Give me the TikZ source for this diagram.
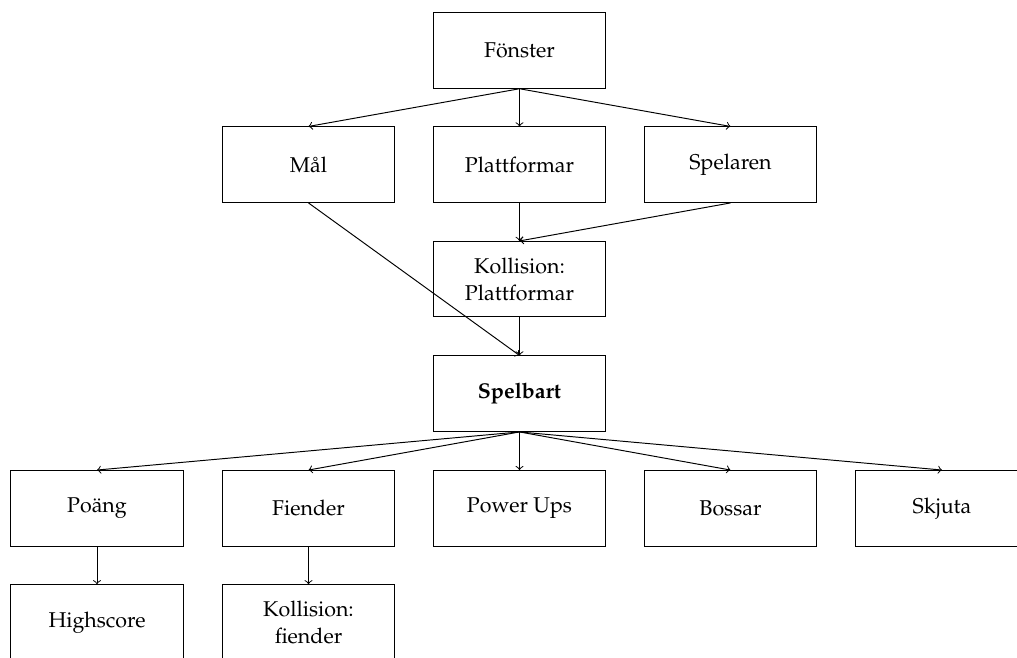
\documentclass[tikz,border=0pt]{standalone}
\usepackage[T1]{fontenc}
\usepackage{mathpazo}
\begin{document}
\begin{tikzpicture}[x=0.4673pt,y=-0.4673pt,
  box/.style={draw,line width=0.45pt,minimum width=80.6pt,minimum height=35.3pt,inner sep=0pt,align=center,font=\fontsize{10pt}{12.5pt}\selectfont},
  conn/.style={->,line width=0.45pt}]
\useasboundingbox (0,0) rectangle (1017,658);
\clip (0,0) rectangle (1017,658);
\node[box] (fon) at (519.5,50.5) {F\"onster};
\node[box] (mal) at (308.5,164.7) {M\aa l};
\node[box] (plat) at (519.5,164.7) {Plattformar};
\node[box] (spel) at (730.5,164.7) {Spelaren};
\node[box] (kplat) at (519.5,279.2) {Kollision:\\Plattformar};
\node[box] (spb) at (519.5,393.7) {\textbf{Spelbart}};
\node[box] (poang) at (97,508.3) {Po\"ang};
\node[box] (fiend) at (308.5,508.3) {Fiender};
\node[box] (pow) at (519.5,508.3) {Power Ups};
\node[box] (boss) at (730.5,508.3) {Bossar};
\node[box] (skj) at (942,508.3) {Skjuta};
\node[box] (high) at (97,622.5) {Highscore};
\node[box] (kfi) at (308.5,622.5) {Kollision:\\fiender};
\draw[conn] (fon.south) -- (mal.north);
\draw[conn] (fon.south) -- (plat.north);
\draw[conn] (fon.south) -- (spel.north);
\draw[conn] (plat.south) -- (kplat.north);
\draw[conn] (spel.south) -- (kplat.north);
\draw[conn] (mal.south) -- (spb.north);
\draw[conn] (kplat.south) -- (spb.north);
\draw[conn] (spb.south) -- (poang.north);
\draw[conn] (spb.south) -- (fiend.north);
\draw[conn] (spb.south) -- (pow.north);
\draw[conn] (spb.south) -- (boss.north);
\draw[conn] (spb.south) -- (skj.north);
\draw[conn] (poang.south) -- (high.north);
\draw[conn] (fiend.south) -- (kfi.north);
\end{tikzpicture}
\end{document}
